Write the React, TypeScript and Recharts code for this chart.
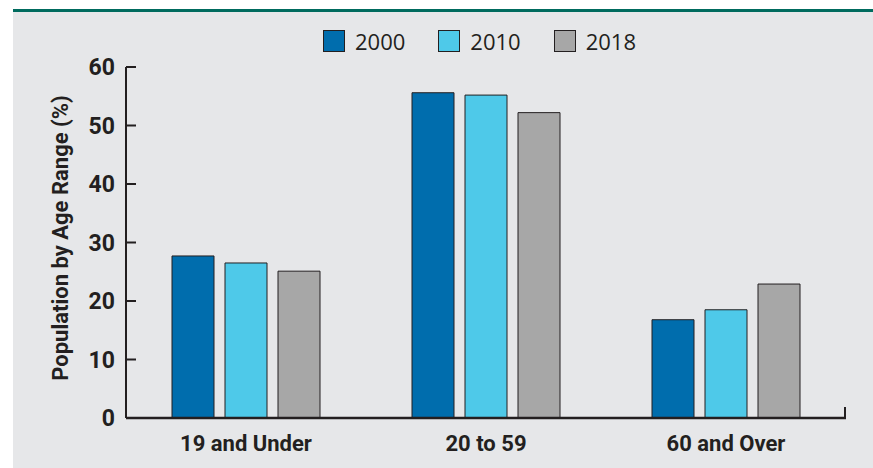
import { BarChart, Bar, XAxis, YAxis } from 'recharts'

const categories = ['19 and Under', '20 to 59', '60 and Over']
const years = ['2000', '2010', '2018']
const values2000 = [27.7, 55.6, 16.8]
const values2010 = [26.5, 55.2, 18.5]
const values2018 = [25.1, 52.2, 22.9]
const yTicks = [0, 10, 20, 30, 40, 50, 60]
const COLORS = ['#006DAD', '#4EC9E9', '#A7A7A7']

const data = categories.map((category, i) => ({
  category,
  '2000': values2000[i],
  '2010': values2010[i],
  '2018': values2018[i],
}))

const INK = '#231F20'
const BOLD_FONT = 'Roboto, "Liberation Sans", sans-serif'
const LIGHT_FONT = '"Open Sans", "Noto Sans", sans-serif'

function YTick({ x, y, payload }: any) {
  return (
    <g>
      <line x1={x + 11} x2={x + 21} y1={y} y2={y} stroke={INK} strokeWidth={2} />
      <text
        x={x}
        y={y}
        dy={8}
        textAnchor="end"
        fill={INK}
        fontFamily={BOLD_FONT}
        fontWeight={700}
        fontSize={23}
      >
        {payload.value}
      </text>
    </g>
  )
}

function XTick({ x, y, payload }: any) {
  return (
    <text
      x={x}
      y={y}
      dy={17}
      textAnchor="middle"
      fill={INK}
      fontFamily={BOLD_FONT}
      fontWeight={700}
      fontSize={22}
    >
      {payload.value}
    </text>
  )
}

function ChartLegend() {
  return (
    <div
      style={{
        position: 'absolute',
        left: 323,
        top: 30,
        display: 'flex',
        gap: 33,
        fontFamily: LIGHT_FONT,
        fontSize: 22,
        color: INK,
      }}
    >
      {years.map((year, i) => (
        <div key={year} style={{ display: 'flex', alignItems: 'center' }}>
          <span
            style={{
              width: 20,
              height: 20,
              background: COLORS[i],
              border: `1px solid ${INK}`,
              marginRight: 10,
              display: 'inline-block',
            }}
          />
          <span style={{ lineHeight: '22px' }}>{year}</span>
        </div>
      ))}
    </div>
  )
}

export default function App() {
  return (
    <div style={{ position: 'absolute', left: 0, top: 0, width: 873, height: 468, background: '#fff', overflow: 'hidden' }}>
      <div style={{ position: 'absolute', left: 13, top: 9, right: 0, height: 3, background: '#006B5E' }} />
      <div style={{ position: 'absolute', left: 13, top: 12, right: 0, bottom: 0, background: '#E6E7E9' }} />
      <div style={{ position: 'absolute', left: 0, top: 0 }}>
        <BarChart
          width={873}
          height={468}
          data={data}
          margin={{ top: 67, right: 27, bottom: 0, left: 66 }}
          barSize={42}
          barGap={11}
        >
          <XAxis
            dataKey="category"
            height={50}
            axisLine={{ stroke: INK, strokeWidth: 2.5 }}
            tickLine={false}
            tickSize={0}
            tickMargin={16}
            tick={<XTick />}
          />
          <YAxis
            width={60}
            domain={[0, 60]}
            ticks={yTicks}
            axisLine={{ stroke: INK, strokeWidth: 2 }}
            tickLine={false}
            tickSize={0}
            tickMargin={11}
            tick={<YTick />}
          />
          {years.map((year, i) => (
            <Bar
              key={year}
              dataKey={year}
              fill={COLORS[i]}
              stroke={INK}
              strokeWidth={1}
              isAnimationActive={false}
            />
          ))}
        </BarChart>
      </div>
      <ChartLegend />
      <div style={{ position: 'absolute', left: 844, top: 407, width: 2, height: 11, background: INK }} />
      <div
        style={{
          position: 'absolute',
          left: 60,
          top: 238,
          transform: 'translate(-50%, -50%) rotate(-90deg)',
          whiteSpace: 'nowrap',
          fontFamily: BOLD_FONT,
          fontWeight: 700,
          fontSize: 22,
          color: INK,
        }}
      >
        Population by Age Range (%)
      </div>
    </div>
  )
}
